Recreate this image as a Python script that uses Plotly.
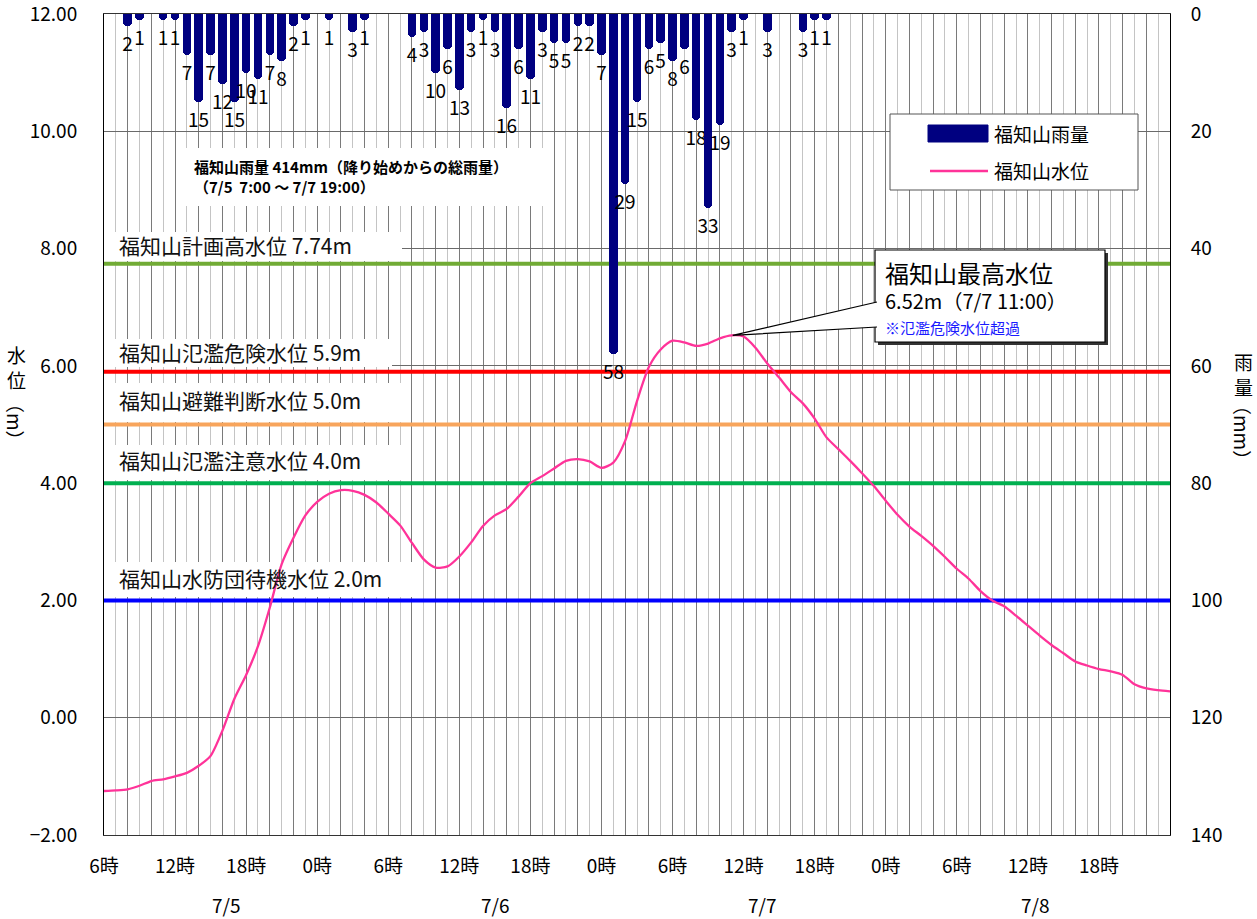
import plotly.graph_objects as go

# ---------------- data ----------------
# hours elapsed since 7/5 6:00
level_hours = list(range(0, 91))
water_level = [
    -1.25, -1.24, -1.22, -1.16, -1.08, -1.05, -1.00, -0.94, -0.82, -0.65,
    -0.22, 0.32, 0.73, 1.22, 1.88, 2.62, 3.07, 3.45, 3.68, 3.82,
    3.88, 3.87, 3.80, 3.67, 3.48, 3.28, 2.98, 2.70, 2.56, 2.58,
    2.75, 2.99, 3.27, 3.45, 3.56, 3.77, 4.00, 4.12, 4.25, 4.38,
    4.41, 4.37, 4.26, 4.35, 4.72, 5.40, 5.98, 6.28, 6.43, 6.40,
    6.34, 6.38, 6.47, 6.52, 6.50, 6.31, 6.04, 5.80, 5.55, 5.36,
    5.10, 4.78, 4.58, 4.38, 4.17, 3.95, 3.70, 3.46, 3.26, 3.10,
    2.93, 2.74, 2.54, 2.37, 2.16, 2.00, 1.90, 1.74, 1.57, 1.40,
    1.24, 1.10, 0.96, 0.89, 0.83, 0.79, 0.73, 0.57, 0.50, 0.47, 0.45,
]

rain_hours = [2, 3, 5, 6, 7, 8, 9, 10, 11, 12, 13, 14, 15, 16, 17, 19, 21, 22,
              26, 27, 28, 29, 30, 31, 32, 33, 34, 35, 36, 37, 38, 39, 40, 41, 42,
              43, 44, 45, 46, 47, 48, 49, 50, 51, 52, 53, 54, 56, 59, 60, 61]
rain_mm = [2, 1, 1, 1, 7, 15, 7, 12, 15, 10, 11, 7, 8, 2, 1, 1, 3, 1,
           4, 3, 10, 6, 13, 3, 1, 3, 16, 6, 11, 3, 5, 5, 2, 2, 7,
           58, 29, 15, 6, 5, 8, 6, 18, 33, 19, 3, 1, 3, 3, 1, 1]

threshold_values = [7.74, 5.9, 5.0, 4.0, 2.0]
threshold_names = ["福知山計画高水位 7.74m", "福知山氾濫危険水位 5.9m",
                   "福知山避難判断水位 5.0m", "福知山氾濫注意水位 4.0m",
                   "福知山水防団待機水位 2.0m"]
threshold_colors = ["#71AB35", "#FF0000", "#F8A55C", "#00B050", "#0000FF"]

tick_hours = list(range(0, 91, 2))
hour_names = {0: "6時", 6: "12時", 12: "18時", 18: "0時"}
tick_labels = [hour_names.get(h % 24, "") if (h % 6 == 0 and h < 90) else "" for h in tick_hours]
date_labels = ["7/5", "7/6", "7/7", "7/8"]

FONT = "Noto Sans CJK JP"

# ------------- layout helpers (pixel positions -> paper / data) -------------
PL, PR, PT, PB = 104, 1170, 14, 835
XMAX = 90


def px(x):
    return (x - PL) / (PR - PL)


def py(y):
    return (PB - y) / (PB - PT)


def hx(x):
    return (x - PL) / (PR - PL) * XMAX


def my(y):
    return 12 - (y - PT) / (PB - PT) * 14


fig = go.Figure()

# threshold lines
for v, c in zip(threshold_values, threshold_colors):
    fig.add_trace(go.Scatter(x=[0, XMAX], y=[v, v], mode="lines",
                             line=dict(color=c, width=4), hoverinfo="skip",
                             showlegend=False))

# water level
fig.add_trace(go.Scatter(x=level_hours, y=water_level, mode="lines",
                         line=dict(color="#FF3399", width=2.3, shape="spline", smoothing=0.7),
                         name="福知山水位", showlegend=False))

# rainfall bars (right axis, reversed)
fig.add_trace(go.Bar(x=rain_hours, y=rain_mm, yaxis="y2", width=0.72,
                     marker=dict(color="#000080", cornerradius="50%", line=dict(width=0)),
                     text=[str(v) for v in rain_mm], textposition="outside",
                     constraintext="none", cliponaxis=False,
                     textfont=dict(family=FONT, size=19, color="#000000"),
                     name="福知山雨量", showlegend=False))

shapes = []
annotations = []

# white boxes behind threshold labels
label_boxes = [(402, 232, 261, 245), (392, 339, 367, 352), (410, 383, 422, 400),
               (410, 445, 480, 460), (422, 562, 597, 578)]
for (xr, yt, yb, yc), name in zip(label_boxes, threshold_names):
    shapes.append(dict(type="rect", xref="x", yref="y", layer="between",
                       x0=0, x1=hx(xr), y0=my(yb), y1=my(yt),
                       fillcolor="white", line=dict(width=0)))
    annotations.append(dict(xref="x", yref="y", x=hx(117), y=my(yc), text=name,
                            showarrow=False, xanchor="left", yanchor="middle",
                            font=dict(family=FONT, size=21, color="#111111")))

# rainfall total text box
shapes.append(dict(type="rect", xref="paper", yref="paper", layer="above",
                   x0=px(185), x1=px(546), y0=py(206), y1=py(148),
                   fillcolor="white", line=dict(width=0)))
annotations.append(dict(xref="paper", yref="paper", x=px(192), y=py(176),
                        text="<b>福知山雨量 414mm（降り始めからの総雨量）</b><br><b>（7/5  7:00 ～ 7/7 19:00）</b>",
                        showarrow=False, xanchor="left", yanchor="middle", align="left",
                        font=dict(family=FONT, size=15, color="#000000")))

# custom legend
shapes.append(dict(type="rect", xref="paper", yref="paper", layer="above",
                   x0=px(890), x1=px(1138), y0=py(190), y1=py(114),
                   fillcolor="white", line=dict(color="#555555", width=1)))
shapes.append(dict(type="rect", xref="paper", yref="paper", layer="above",
                   x0=px(928), x1=px(988), y0=py(142), y1=py(125),
                   fillcolor="#000080", line=dict(color="#000080", width=1)))
shapes.append(dict(type="line", xref="paper", yref="paper", layer="above",
                   x0=px(930), x1=px(988), y0=py(171), y1=py(171),
                   line=dict(color="#FF3399", width=2.5)))
annotations.append(dict(xref="paper", yref="paper", x=px(992), y=py(133), text="福知山雨量",
                        showarrow=False, xanchor="left", yanchor="middle",
                        font=dict(family=FONT, size=19, color="#000000")))
annotations.append(dict(xref="paper", yref="paper", x=px(992), y=py(171), text="福知山水位",
                        showarrow=False, xanchor="left", yanchor="middle",
                        font=dict(family=FONT, size=19, color="#000000")))

# callout box for the peak
shapes.append(dict(type="rect", xref="paper", yref="paper", layer="above",
                   x0=px(878), x1=px(1108), y0=py(345), y1=py(253),
                   fillcolor="#333333", line=dict(width=0)))
shapes.append(dict(type="rect", xref="paper", yref="paper", layer="above",
                   x0=px(875), x1=px(1105), y0=py(342), y1=py(250),
                   fillcolor="white", line=dict(color="#000000", width=1.2)))
peak_i = water_level.index(max(water_level))
peak_x = level_hours[peak_i]
peak_y = water_level[peak_i]
peak_px = PL + peak_x / XMAX * (PR - PL)
peak_py = PB - (peak_y + 2) / 14 * (PB - PT)
shapes.append(dict(type="path", xref="paper", yref="paper", layer="above",
                   path="M {:.5f} {:.5f} L {:.5f} {:.5f} L {:.5f} {:.5f}".format(
                       px(877), py(302), px(peak_px + 1), py(peak_py), px(877), py(327)),
                   fillcolor="white", line=dict(color="#000000", width=1.2)))
annotations.append(dict(xref="paper", yref="paper", x=px(883), y=py(272), text="福知山最高水位",
                        showarrow=False, xanchor="left", yanchor="middle",
                        font=dict(family=FONT, size=24, color="#000000")))
annotations.append(dict(xref="paper", yref="paper", x=px(883), y=py(300),
                        text="{:.2f}m（7/7 11:00）".format(peak_y),
                        showarrow=False, xanchor="left", yanchor="middle",
                        font=dict(family=FONT, size=20, color="#000000")))
annotations.append(dict(xref="paper", yref="paper", x=px(883), y=py(327), text="※氾濫危険水位超過",
                        showarrow=False, xanchor="left", yanchor="middle",
                        font=dict(family=FONT, size=15, color="#1a1aff")))

# date labels under the hour ticks
for lbl, xpix in zip(date_labels, [226, 495, 762, 1035]):
    annotations.append(dict(xref="paper", yref="paper", x=px(xpix), y=py(905), text=lbl,
                            showarrow=False, xanchor="center", yanchor="middle",
                            font=dict(family=FONT, size=19, color="#000000")))

# axis titles (vertical)
annotations.append(dict(xref="paper", yref="paper", x=px(16), y=py(367), text="水<br>位",
                        showarrow=False, xanchor="center", yanchor="middle",
                        font=dict(family=FONT, size=19, color="#000000")))
annotations.append(dict(xref="paper", yref="paper", x=px(16), y=py(422), text="（m）", textangle=90,
                        showarrow=False, xanchor="center", yanchor="middle",
                        font=dict(family=FONT, size=19, color="#000000")))
annotations.append(dict(xref="paper", yref="paper", x=px(1243), y=py(374), text="雨<br>量",
                        showarrow=False, xanchor="center", yanchor="middle",
                        font=dict(family=FONT, size=19, color="#000000")))
annotations.append(dict(xref="paper", yref="paper", x=px(1243), y=py(432), text="（mm）", textangle=90,
                        showarrow=False, xanchor="center", yanchor="middle",
                        font=dict(family=FONT, size=19, color="#000000")))

fig.update_layout(
    width=1257, height=919,
    margin=dict(l=PL, r=1257 - PR, t=PT, b=919 - PB, autoexpand=False),
    paper_bgcolor="white", plot_bgcolor="white",
    font=dict(family=FONT, size=19, color="#000000"),
    bargap=0,
    xaxis=dict(range=[0, XMAX], tickmode="array", tickvals=tick_hours, ticktext=tick_labels,
               showgrid=True, gridcolor="#7a7a7a", gridwidth=1,
               minor=dict(tickmode="linear", tick0=1, dtick=2, showgrid=True,
                          gridcolor="#c4c4c4", gridwidth=1, ticks=""),
               ticks="", ticklabelstandoff=14, zeroline=False,
               showline=True, linecolor="#333333", linewidth=1, mirror=True,
               tickfont=dict(family=FONT, size=19), automargin=False),
    yaxis=dict(range=[-2, 12], tickmode="array", tickvals=list(range(-2, 13, 2)),
               tickformat=".2f", showgrid=True, gridcolor="#6a6a6a", gridwidth=1,
               zeroline=False, ticks="", ticklabelstandoff=22, ticklabeloverflow="allow",
               showline=True, linecolor="#000000", linewidth=1,
               tickfont=dict(family=FONT, size=19), automargin=False),
    yaxis2=dict(range=[140, 0], overlaying="y", side="right", tickmode="array",
                tickvals=list(range(0, 141, 20)), showgrid=False, zeroline=False,
                ticks="", ticklabelstandoff=16, ticklabeloverflow="allow",
                showline=True, linecolor="#000000",
                linewidth=1, tickfont=dict(family=FONT, size=19), automargin=False),
    shapes=shapes,
    annotations=annotations,
    showlegend=False,
)

fig.write_html("out.html", config={"displayModeBar": False},
               post_script="document.body.style.margin='0';document.body.style.overflow='hidden';")
